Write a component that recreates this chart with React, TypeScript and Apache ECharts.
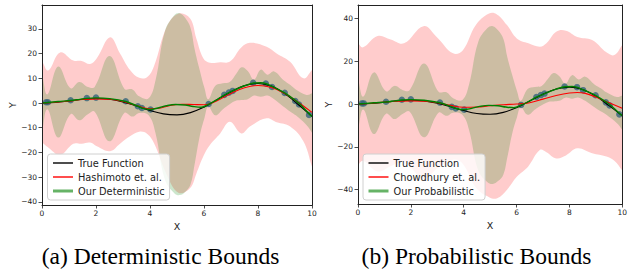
import React, { useEffect, useRef } from "react";
import * as echarts from "echarts";

// ---- data ----
const trueX = [0, 0.5, 1, 1.5, 2, 2.5, 3, 3.5, 4, 4.5, 5, 5.5, 6, 6.5, 7, 7.5, 8, 8.5, 9, 9.5, 10];
const trueY = [0, 0.24, 0.84, 1.5, 1.82, 1.5, 0.42, -1.23, -3.03, -4.4, -4.79, -3.88, -1.68, 1.39, 4.6, 7.04, 7.91, 6.84, 3.71, -0.71, -5.44];

const hashX = [0, 0.5, 1, 1.5, 2, 2.5, 3, 3.5, 4, 4.4, 4.8, 5.2, 5.6, 6, 6.2, 6.5, 7, 7.5, 8, 8.5, 9, 9.5, 10];
const hashY = [0, 0.3, 0.8, 1.4, 1.7, 1.5, 0.6, -1.0, -2.3, -2.0, -0.9, -0.5, -0.6, -0.7, -0.4, 1.0, 3.9, 6.2, 7.1, 6.3, 3.8, 0.2, -3.8];

const chowX = [0, 0.5, 1, 1.5, 2, 2.5, 3, 3.5, 4, 4.5, 5, 5.5, 6, 6.5, 7, 7.5, 8, 8.3, 8.6, 9, 9.5, 10];
const chowY = [0, 0.4, 0.9, 1.3, 1.5, 1.3, 0.6, -0.6, -1.5, -1.4, -0.8, -0.3, 0, 0.6, 2.3, 4.0, 5.2, 5.4, 5.0, 3.3, 0.6, -2];

const oursX = [0, 0.2, 0.6, 1.06, 1.4, 1.66, 2.0, 2.5, 3.1, 3.55, 3.7, 4.0, 4.3, 4.6, 4.95, 5.3, 5.6, 5.9, 6.17, 6.5, 6.75, 7.06, 7.5, 7.85, 8.1, 8.3, 8.52, 9.0, 9.4, 9.55, 9.9, 10];
const oursY = [0, 0.2, 0.6, 1.0, 1.5, 1.9, 2.1, 1.8, 0.6, -1.3, -2.0, -2.6, -2.0, -1.1, -0.6, -0.8, -1.4, -1.7, -0.5, 1.5, 3.2, 4.9, 7.0, 8.1, 8.2, 7.8, 6.7, 4.0, 0.9, -0.4, -4.4, -5.4];

const obsX = [0.15, 0.22, 1.06, 1.66, 2.0, 3.1, 3.55, 3.7, 4.02, 6.17, 6.75, 6.92, 7.06, 7.82, 8.29, 8.52, 8.99, 9.38, 9.52, 9.89];
const obsY = [0.3, 0.3, 1.1, 2.0, 2.2, 0.7, -1.3, -2.0, -2.6, -0.4, 3.3, 4.2, 4.9, 8.2, 7.9, 6.5, 4.1, 0.8, -0.6, -4.8];

// our (green) confidence band
const ourBandX = [0, 0.2, 0.6, 1.06, 1.38, 1.7, 1.95, 2.5, 3.05, 3.35, 3.6, 3.95, 4.2, 4.55, 4.9, 5.1, 5.3, 5.5, 5.65, 5.85, 6.02, 6.16, 6.42, 6.7, 6.95, 7.2, 7.4, 7.62, 7.85, 8.1, 8.35, 8.6, 8.95, 9.2, 9.4, 9.8, 10];
const ourBandUp = [12, 3.5, 14.8, 6, 8.5, 6.5, 6.5, 19, 5.8, 5.5, 2.7, 1.9, 9, 29, 35.5, 36.4, 34.5, 30.5, 22, 13, 6, 1.5, 7, 8, 8.5, 12, 14.5, 13, 9.5, 13.5, 11.5, 12.8, 9.2, 7.3, 5.5, 3.3, 4];
const ourBandLo = [-12, -2.5, -14, -4.5, -7, -4.5, -3.5, -15.5, -4, -5.5, -4, -5, -12, -31, -36.5, -37.3, -36, -33, -25, -13, -6, -1.5, -5, -2.5, -0.5, 1, 1.2, 1.5, 3, 2.5, 3, 1.5, -1.5, -3.5, -5, -9, -12];

// Hashimoto (red) band, left panel
const hashBandX = [0, 0.23, 0.67, 1.16, 1.47, 1.78, 2.03, 2.52, 2.89, 3.26, 3.6, 3.9, 4.15, 4.62, 5.05, 5.48, 5.72, 5.98, 6.22, 6.6, 6.96, 7.38, 7.7, 8.32, 8.69, 9.19, 9.68, 10];
const hashBandUp = [17, 13.2, 20.5, 17.2, 17, 15.8, 18.1, 26.6, 20.1, 13.4, 10.2, 10.5, 15, 30.9, 36.2, 34.3, 26, 18, 16.3, 16.5, 16.8, 22.5, 24.4, 22.8, 20.1, 16.7, 10, 13.4];
const hashBandLo = [-16, -18, -21, -16.5, -16.5, -16, -17.5, -19.5, -16.5, -13.5, -11.6, -12.5, -16.3, -29, -36.3, -34.5, -28.5, -21.5, -17, -12.3, -7.6, -12.3, -9.5, -6.2, -7.8, -9.5, -15.5, -25.8];

// Chowdhury (red) band, right panel
const chowBandX = [0, 0.19, 0.74, 1.24, 1.74, 2.48, 2.97, 3.6, 3.97, 4.46, 4.96, 5.27, 5.64, 6.01, 6.45, 6.88, 7.13, 7.5, 7.87, 8.3, 8.86, 9.4, 9.7, 10];
const chowBandUp = [28.4, 26.5, 31.8, 30.2, 28.4, 36.4, 31.5, 23.7, 25.2, 36.9, 42.3, 41.8, 36.9, 30.7, 28.4, 26.8, 28.4, 33.8, 34.3, 31.4, 29.9, 24.2, 22.9, 27.6];
const chowBandLo = [-28.4, -26.5, -31.5, -29, -27, -35, -30.3, -26, -28, -39, -43.5, -44, -40, -34, -29, -21.5, -22.5, -25.4, -24, -20.7, -23, -24.5, -26.5, -31];

const xTicks = [0, 2, 4, 6, 8, 10];
const leftYTicks = [-40, -30, -20, -10, 0, 10, 20, 30];
const rightYTicks = [-40, -20, 0, 20, 40];

const leftLegend = ["True Function", "Hashimoto et. al.", "Our Deterministic"];
const rightLegend = ["True Function", "Chowdhury et. al.", "Our Probabilistic"];
const captions = ["(a) Deterministic Bounds", "(b) Probabilistic Bounds"];

const FONT = "DejaVu Sans";
const INK = "#222";

const pairs = (xs: number[], ys: number[]) => xs.map((x, i) => [x, ys[i]]);

function bandSeries(xs: number[], up: number[], lo: number[], fill: string, idx: number) {
  return {
    type: "custom",
    xAxisIndex: idx,
    yAxisIndex: idx,
    clip: true,
    silent: true,
    z: 1,
    data: [[xs[0], up[0]]],
    renderItem: (_p: any, api: any) => {
      const top = xs.map((x, i) => api.coord([x, up[i]]));
      const bot = xs.map((x, i) => api.coord([x, lo[i]])).reverse();
      const pts = [top[0], ...top, top[top.length - 1], bot[0], ...bot, bot[bot.length - 1]];
      return { type: "polygon", shape: { points: pts, smooth: 0.4 }, style: { fill } };
    },
  };
}

function lineSeries(name: string, xs: number[], ys: number[], color: string, width: number, idx: number, z: number) {
  return {
    type: "line",
    name,
    xAxisIndex: idx,
    yAxisIndex: idx,
    data: pairs(xs, ys),
    smooth: 0.4,
    symbol: "none",
    clip: true,
    silent: true,
    z,
    lineStyle: { color, width },
    itemStyle: { color },
  };
}

const minus = (v: number) => String(v).replace("-", "\u2212");

function mainX(gridIndex: number) {
  return {
    type: "value",
    gridIndex,
    min: 0,
    max: 10,
    interval: 2,
    position: "bottom",
    z: 10,
    axisLine: { show: true, onZero: false, lineStyle: { color: INK, width: 1 } },
    axisTick: { show: true, length: 3.5, lineStyle: { color: INK, width: 0.8 } },
    axisLabel: { fontFamily: FONT, fontSize: 7.5, color: INK, margin: 4, customValues: xTicks },
    splitLine: { show: false },
    name: "X",
    nameLocation: "middle",
    nameGap: 15,
    nameTextStyle: { fontFamily: FONT, fontSize: 9.5, color: INK },
  };
}
function frameX(gridIndex: number) {
  return {
    type: "value", gridIndex, min: 0, max: 10, position: "top", z: 10,
    axisLine: { show: true, onZero: false, lineStyle: { color: INK, width: 1 } },
    axisTick: { show: false }, axisLabel: { show: false }, splitLine: { show: false },
  };
}
function mainY(gridIndex: number, min: number, max: number, ticks: number[], gap: number) {
  return {
    type: "value",
    gridIndex,
    min,
    max,
    position: "left",
    z: 10,
    axisLine: { show: true, onZero: false, lineStyle: { color: INK, width: 1 } },
    axisTick: { show: true, length: 3.5, lineStyle: { color: INK, width: 0.8 }, customValues: ticks },
    axisLabel: { fontFamily: FONT, fontSize: 7.5, color: INK, margin: 5, customValues: ticks, formatter: minus },
    splitLine: { show: false },
    name: "Y",
    nameLocation: "middle",
    nameGap: gap,
    nameTextStyle: { fontFamily: FONT, fontSize: 9.5, color: INK },
  };
}
function frameY(gridIndex: number, min: number, max: number) {
  return {
    type: "value", gridIndex, min, max, position: "right", z: 10,
    axisLine: { show: true, onZero: false, lineStyle: { color: INK, width: 1 } },
    axisTick: { show: false }, axisLabel: { show: false }, splitLine: { show: false },
  };
}

function legend(names: string[], left: number) {
  return {
    orient: "vertical",
    left,
    top: 154,
    padding: [4, 5, 4, 4],
    itemGap: 4,
    itemWidth: 20,
    itemHeight: 10,
    selectedMode: false,
    backgroundColor: "rgba(255,255,255,0.8)",
    borderColor: "#d0d0d0",
    borderWidth: 1,
    borderRadius: 3,
    itemStyle: { opacity: 0, borderWidth: 0 },
    textStyle: { fontFamily: FONT, fontSize: 9.8, color: INK },
    data: [
      { name: names[0], lineStyle: { width: 1.4, color: "#000" } },
      { name: names[1], lineStyle: { width: 1.4, color: "#ff0000" } },
      { name: names[2], lineStyle: { width: 3, color: "rgba(0,128,0,0.6)" } },
    ],
  };
}

export default function App() {
  const ref = useRef<HTMLDivElement>(null);
  useEffect(() => {
    if (!ref.current) return;
    const chart = echarts.init(ref.current, null, { renderer: "svg" });
    const leftMin = -41.3, leftMax = 39.7;
    const rightMin = -46.7, rightMax = 46.3;
    const dots = (idx: number) => ({
      type: "scatter",
      xAxisIndex: idx,
      yAxisIndex: idx,
      data: pairs(obsX, obsY),
      symbolSize: 6.5,
      silent: true,
      z: 3,
      itemStyle: { color: "#35647a" },
    });
    chart.setOption({
      animation: false,
      backgroundColor: "#fff",
      grid: [
        { left: 42, top: 5, width: 270, height: 200 },
        { left: 358, top: 5, width: 269, height: 199 },
      ],
      xAxis: [mainX(0), frameX(0), mainX(1), frameX(1)],
      yAxis: [
        mainY(0, leftMin, leftMax, leftYTicks, 25),
        frameY(0, leftMin, leftMax),
        mainY(1, rightMin, rightMax, rightYTicks, 21),
        frameY(1, rightMin, rightMax),
      ],
      legend: [legend(leftLegend, 47.5), legend(rightLegend, 363)],
      series: [
        bandSeries(hashBandX, hashBandUp, hashBandLo, "rgba(255,0,0,0.2)", 0),
        bandSeries(ourBandX, ourBandUp, ourBandLo, "rgba(0,128,0,0.2)", 0),
        dots(0),
        lineSeries(leftLegend[0], trueX, trueY, "#000", 1.1, 0, 4),
        lineSeries(leftLegend[1], hashX, hashY, "#ff0000", 1.1, 0, 5),
        lineSeries(leftLegend[2], oursX, oursY, "#008000", 1.4, 0, 6),

        bandSeries(chowBandX, chowBandUp, chowBandLo, "rgba(255,0,0,0.2)", 2),
        bandSeries(ourBandX, ourBandUp, ourBandLo, "rgba(0,128,0,0.2)", 2),
        dots(2),
        lineSeries(rightLegend[0], trueX, trueY, "#000", 1.1, 2, 4),
        lineSeries(rightLegend[1], chowX, chowY, "#ff0000", 1.1, 2, 5),
        lineSeries(rightLegend[2], oursX, oursY, "#008000", 1.4, 2, 6),
      ],
      graphic: [
        {
          type: "text", x: 160.5, y: 256,
          style: { text: captions[0], fontFamily: "Liberation Serif", fontSize: 23.5, fill: "#000", align: "center", verticalAlign: "middle" },
        },
        {
          type: "text", x: 476.5, y: 256,
          style: { text: captions[1], fontFamily: "Liberation Serif", fontSize: 23.5, fill: "#000", align: "center", verticalAlign: "middle" },
        },
      ],
    });
    return () => chart.dispose();
  }, []);
  return (
    <div
      ref={ref}
      style={{ position: "fixed", left: 0, top: 0, width: 630, height: 274, background: "#fff" }}
    />
  );
}
